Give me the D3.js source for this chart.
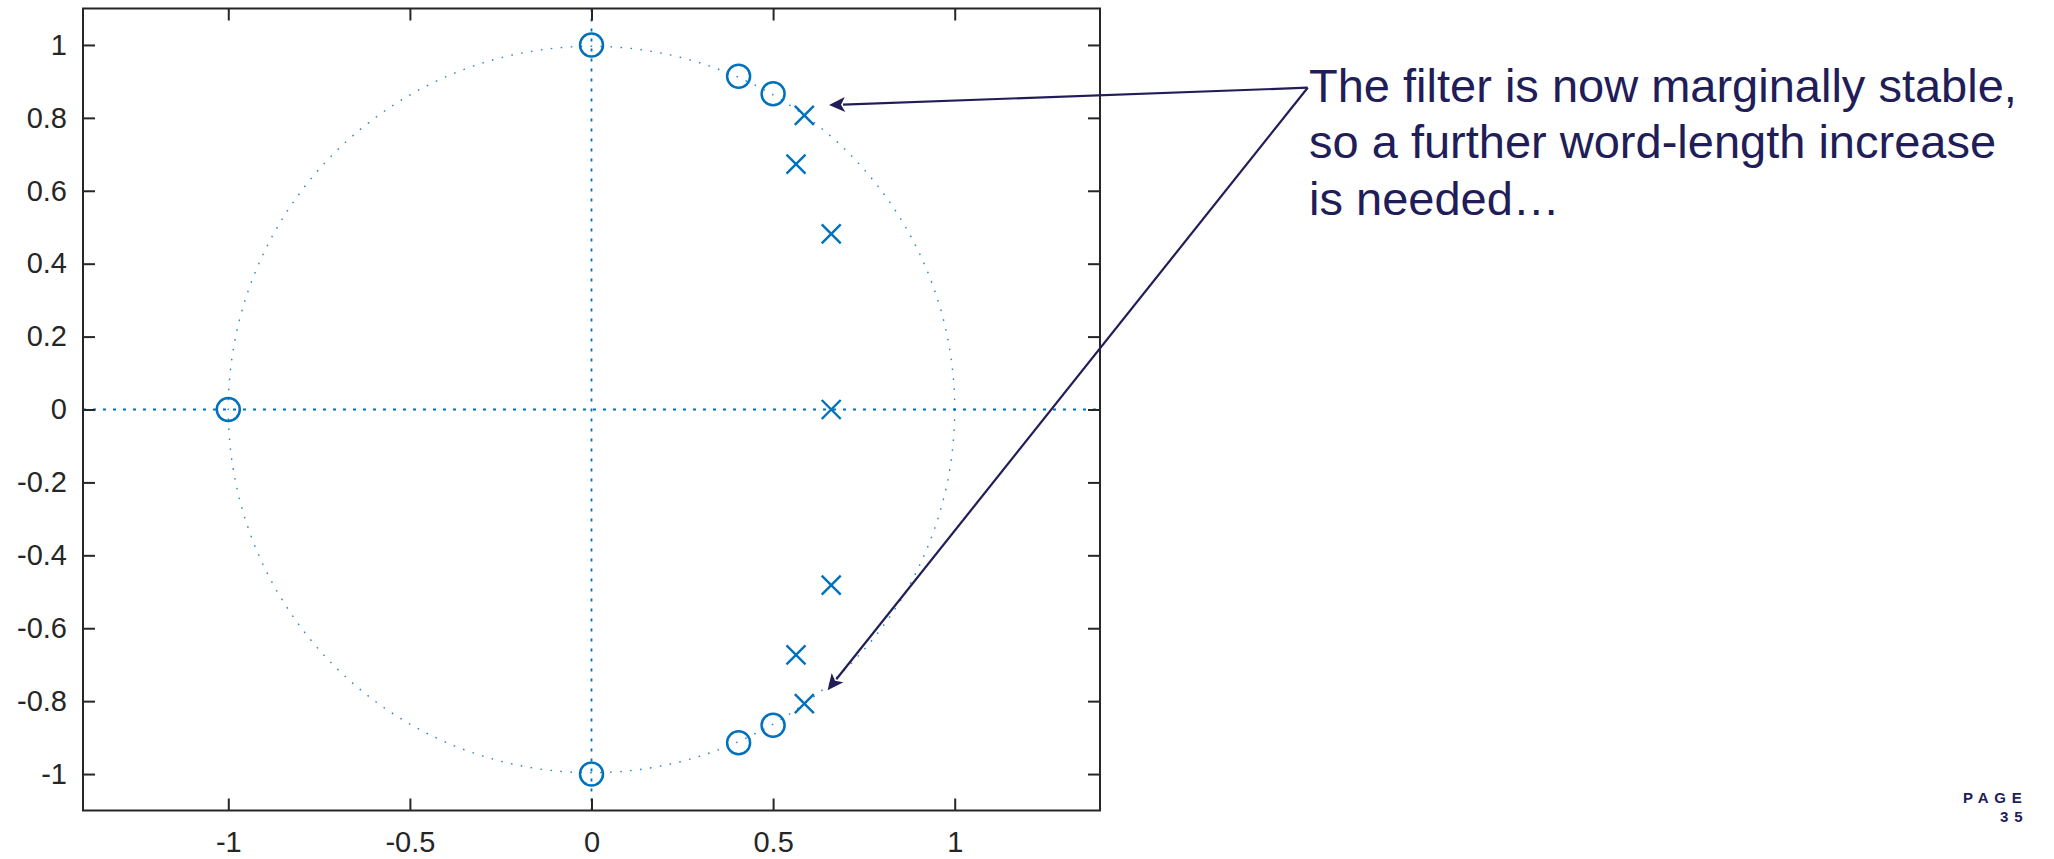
<!DOCTYPE html>
<html>
<head>
<meta charset="utf-8">
<script src="https://cdn.jsdelivr.net/npm/d3@7"></script>
<style>
  html, body { margin: 0; padding: 0; background: #fff; }
  svg { display: block; }
</style>
</head>
<body>
<div id="chart"></div>
<script>
// zeros (o) and poles (x) of the quantised filter
const zerosRe = [0, 0, -1, 0.405, 0.5, 0.405, 0.5];
const zerosIm = [1, -1, 0, 0.914, 0.866, -0.914, -0.866];
const polesRe = [0.586, 0.563, 0.66, 0.66, 0.66, 0.563, 0.586];
const polesIm = [0.807, 0.673, 0.482, 0, -0.482, -0.673, -0.807];
const xTicks = [-1, -0.5, 0, 0.5, 1];
const yTicks = [-1, -0.8, -0.6, -0.4, -0.2, 0, 0.2, 0.4, 0.6, 0.8, 1];
const noteLines = ['The filter is now marginally stable,', 'so a further word-length increase', 'is needed…'];
// arrow tips, in data units
const arrowTipRe = [0.654, 0.650];
const arrowTipIm = [0.835, -0.770];

const W = 2054, H = 859;
const box = { left: 83, right: 1100, top: 8.5, bottom: 810.5 };
const blue = '#0072BD';
const ink = '#262626';
const navy = '#211D58';
const tickFont = '29px "Liberation Sans", Arial, sans-serif';

const svg = d3.select('#chart').append('svg')
  .attr('width', W).attr('height', H)
  .attr('viewBox', [0, 0, W, H]);

const x = d3.scaleLinear().domain([-1.4, 1.4]).range([box.left, box.right]);
const y = d3.scaleLinear().domain([-1.1, 1.1]).range([box.bottom, box.top]);

// clip everything data-ish to the axes box
svg.append('clipPath').attr('id', 'plotclip')
  .append('rect')
  .attr('x', box.left).attr('y', box.top)
  .attr('width', box.right - box.left).attr('height', box.bottom - box.top);

const plot = svg.append('g').attr('clip-path', 'url(#plotclip)');

// unit circle
plot.append('circle')
  .attr('cx', x(0)).attr('cy', y(0))
  .attr('r', x(1) - x(0))
  .attr('fill', 'none')
  .attr('stroke', blue)
  .attr('stroke-opacity', 0.85)
  .attr('stroke-width', 1.4)
  .attr('stroke-dasharray', '1.6,8.4');

// real / imaginary axis lines
plot.append('line')
  .attr('x1', box.left).attr('x2', box.right)
  .attr('y1', y(0)).attr('y2', y(0))
  .attr('stroke', blue).attr('stroke-width', 1.8)
  .attr('stroke-dasharray', '3,7');
plot.append('line')
  .attr('x1', x(0)).attr('x2', x(0))
  .attr('y1', box.top).attr('y2', box.bottom)
  .attr('stroke', blue).attr('stroke-width', 1.8)
  .attr('stroke-dasharray', '3,7');

// zeros
plot.selectAll('circle.zero')
  .data(d3.range(zerosRe.length))
  .join('circle')
  .attr('class', 'zero')
  .attr('cx', i => x(zerosRe[i]))
  .attr('cy', i => y(zerosIm[i]))
  .attr('r', 11.5)
  .attr('fill', 'none')
  .attr('stroke', blue)
  .attr('stroke-width', 2.5);

// poles
const s = 9.5;
plot.selectAll('path.pole')
  .data(d3.range(polesRe.length))
  .join('path')
  .attr('class', 'pole')
  .attr('transform', i => `translate(${x(polesRe[i])},${y(polesIm[i])})`)
  .attr('d', `M${-s},${-s}L${s},${s}M${-s},${s}L${s},${-s}`)
  .attr('fill', 'none')
  .attr('stroke', blue)
  .attr('stroke-width', 2.4);

// axes (ticks inside, box on)
const styleAxis = g => {
  g.select('.domain').remove();
  g.selectAll('.tick line').attr('stroke', ink).attr('stroke-width', 2);
  g.selectAll('.tick text').attr('fill', ink).style('font', tickFont);
};

svg.append('g')
  .attr('transform', `translate(0,${box.bottom})`)
  .call(d3.axisBottom(x).tickValues(xTicks).tickSizeInner(-12).tickSizeOuter(0).tickPadding(21).tickFormat(d3.format('')))
  .call(styleAxis);
svg.append('g')
  .attr('transform', `translate(0,${box.top})`)
  .call(d3.axisTop(x).tickValues(xTicks).tickSizeInner(-12).tickSizeOuter(0).tickFormat(''))
  .call(styleAxis);
svg.append('g')
  .attr('transform', `translate(${box.left},0)`)
  .call(d3.axisLeft(y).tickValues(yTicks).tickSizeInner(-12).tickSizeOuter(0).tickPadding(16)
    .tickFormat(d => d3.format('')(+d.toFixed(1))))
  .call(styleAxis);
svg.append('g')
  .attr('transform', `translate(${box.right},0)`)
  .call(d3.axisRight(y).tickValues(yTicks).tickSizeInner(-12).tickSizeOuter(0).tickFormat(''))
  .call(styleAxis);

// MATLAB-style hyphen minus
svg.selectAll('.tick text').text(function () { return this.textContent.replace('−', '-'); });

svg.append('rect')
  .attr('x', box.left).attr('y', box.top)
  .attr('width', box.right - box.left).attr('height', box.bottom - box.top)
  .attr('fill', 'none')
  .attr('stroke', ink)
  .attr('stroke-width', 2);

// annotation arrows
const origin = [1307.7, 87.7];
const headLen = 16, headHalf = 7.5;
arrowTipRe.forEach((re, i) => {
  const tx = x(re), ty = y(arrowTipIm[i]);
  const dx = tx - origin[0], dy = ty - origin[1];
  const len = Math.hypot(dx, dy);
  const ux = dx / len, uy = dy / len;
  const bx = tx - ux * headLen, by = ty - uy * headLen;
  svg.append('line')
    .attr('x1', origin[0]).attr('y1', origin[1])
    .attr('x2', bx + ux * 2).attr('y2', by + uy * 2)
    .attr('stroke', navy).attr('stroke-width', 2.2);
  svg.append('path')
    .attr('d', `M${tx},${ty}L${bx - uy * headHalf},${by + ux * headHalf}L${bx + ux * 4},${by + uy * 4}L${bx + uy * headHalf},${by - ux * headHalf}Z`)
    .attr('fill', navy);
});

// annotation text
svg.append('text')
  .attr('fill', navy)
  .style('font', '47px "Liberation Sans", Arial, sans-serif')
  .selectAll('tspan')
  .data(noteLines)
  .join('tspan')
  .attr('x', 1309)
  .attr('y', (d, i) => 101.7 + i * 56.5)
  .text(d => d);

// page number
const page = svg.append('g')
  .attr('fill', navy)
  .style('font', 'bold 15px "Liberation Sans", Arial, sans-serif')
  .style('letter-spacing', '5.8px');
page.append('text').attr('x', 1963).attr('y', 802.7).text('PAGE');
page.append('text').attr('x', 2000).attr('y', 821.7).text('35');
</script>
</body>
</html>
